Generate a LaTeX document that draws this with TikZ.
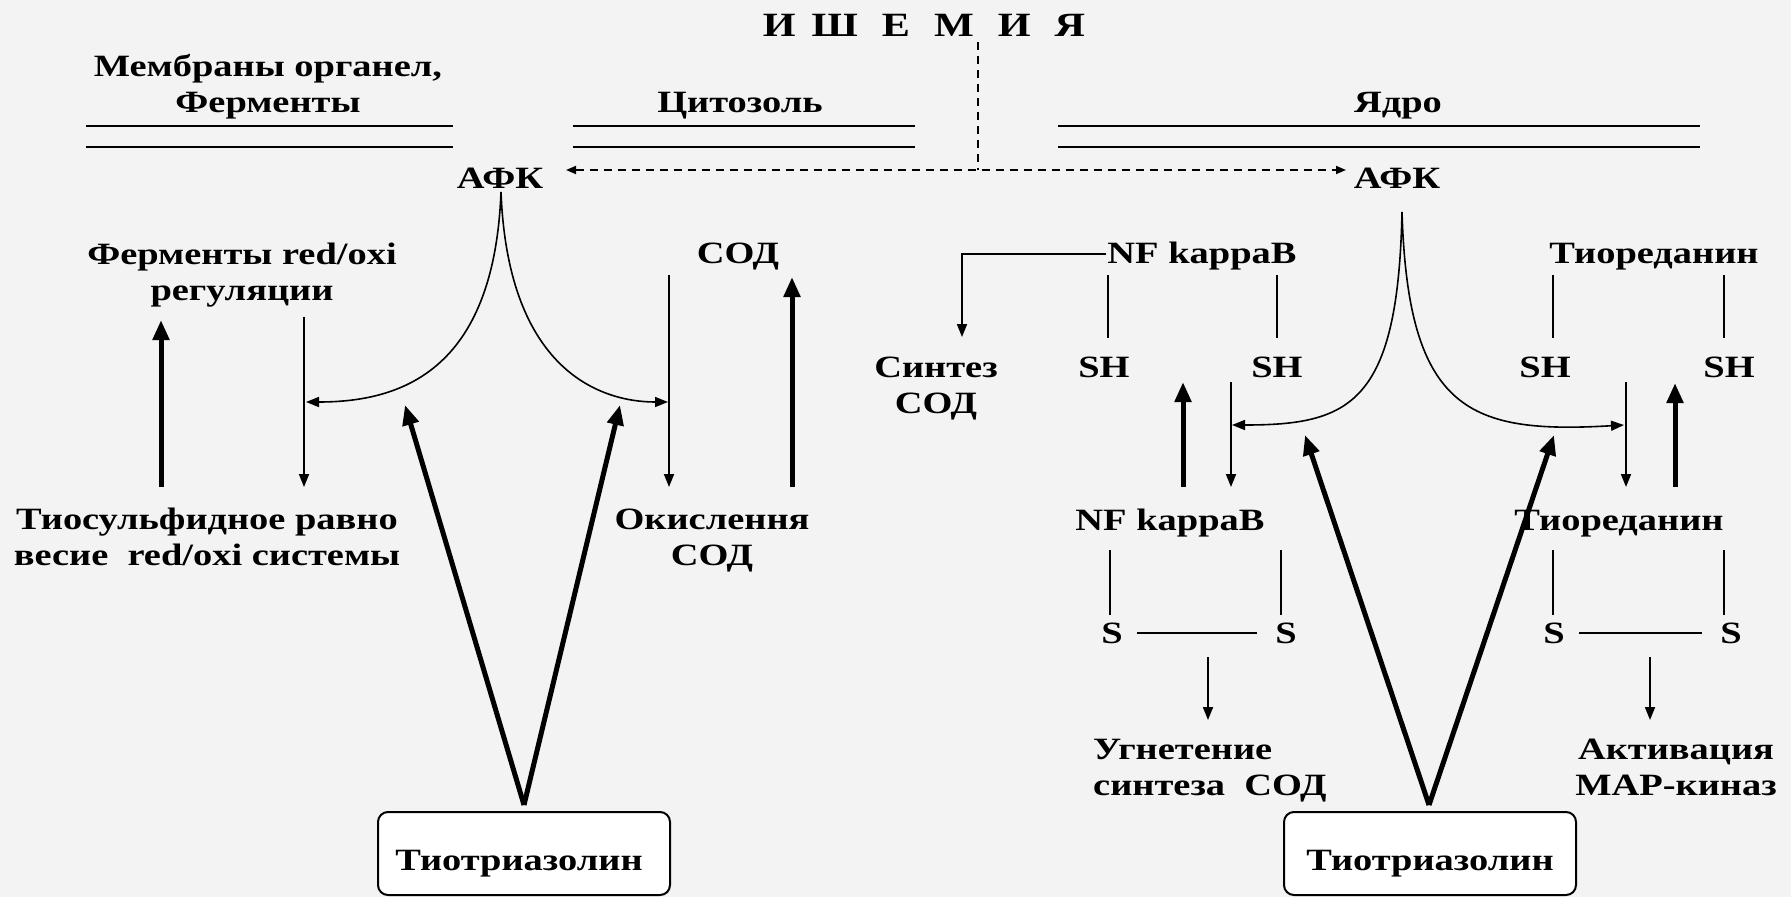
\documentclass[tikz,border=0pt]{standalone}
\usepackage{fontspec}
\setmainfont{Liberation Serif}[FakeStretch=1.24]
\usetikzlibrary{arrows.meta}
\definecolor{bg}{RGB}{243,243,243}
\begin{document}
\begin{tikzpicture}[x=1pt,y=-1pt,
  lbl/.style={font=\fontsize{31}{36}\selectfont\bfseries, inner sep=0pt, anchor=base, align=center},
  ttl/.style={font=\fontsize{34}{40}\selectfont\bfseries, inner sep=0pt, anchor=base},
  thinln/.style={line width=1.8pt},
  thinarr/.style={line width=1.8pt, -{Triangle[length=13pt,width=10pt]}},
  thickarr/.style={line width=5pt, -{Triangle[length=20pt,width=16pt]}},
  dblln/.style={line width=2.2pt},
  curvearr/.style={line width=1.6pt, {Triangle[length=13pt,width=10pt]}-{Triangle[length=13pt,width=10pt]}},
  dashln/.style={line width=1.8pt, dash pattern=on 8pt off 6pt},
  drugbox/.style={draw, line width=2pt, fill=white, rounded corners=10pt, minimum width=292pt, minimum height=83pt, inner sep=0pt, text height=40pt, text depth=7pt, font=\fontsize{31}{36}\selectfont\bfseries}
]
\useasboundingbox (0,0) rectangle (1791,897);
\fill[bg] (0,0) rectangle (1791,897);

% ---------- top ----------
\node[ttl] (title) at (924,36) {И\hspace{16pt}Ш\hspace{24pt}Е\hspace{24pt}М\hspace{24pt}И\hspace{24pt}Я};
\node[lbl] (mem) at (268,112) {Мембраны органел,\\Ферменты};
\node[lbl] (cyt) at (740,112) {Цитозоль};
\node[lbl] (nuc) at (1398,112) {Ядро};
\node[lbl] (afk1) at (500,188) {АФК};
\node[lbl] (afk2) at (1397,188) {АФК};

\foreach \a/\b in {86/453,573/915,1058/1700}{
  \draw[dblln] (\a,126) -- (\b,126);
  \draw[dblln] (\a,147) -- (\b,147);
}

\coordinate (dtop) at (978,42);
\coordinate (djoin) at (978,170);
\coordinate (daL) at (566,170);
\coordinate (daR) at (1346,170);
\draw[dashln] (dtop) -- (djoin);
\draw[dashln, {Triangle[length=10pt,width=8pt]}-{Triangle[length=10pt,width=8pt]}] (daL) -- (daR);

% ---------- left part ----------
\node[lbl] (fer) at (242,300) {Ферменты red/oxi\\регуляции};
\node[lbl] (sod1) at (738,263) {СОД};
\node[lbl] (tio) at (207,565) {Тиосульфидное равно\\весие\ \ red/oxi системы};
\node[lbl] (okis) at (712,565) {Окислення\\СОД};
\node[drugbox] (box1) at (524,853.5) {Тиотриазолин\kern10pt};

\coordinate (lA0) at (161,487); \coordinate (lA1) at (161,320);
\coordinate (lB0) at (304,317); \coordinate (lB1) at (304,487);
\coordinate (lC0) at (669,275); \coordinate (lC1) at (669,487);
\coordinate (lD0) at (792,487); \coordinate (lD1) at (792,277);
\draw[thickarr] (lA0) -- (lA1);
\draw[thinarr] (lB0) -- (lB1);
\draw[thinarr] (lC0) -- (lC1);
\draw[thickarr] (lD0) -- (lD1);

\coordinate (pk1) at (501,192);
\coordinate (cL1) at (306,402);
\coordinate (cL2) at (668,402);
\draw[curvearr] (cL1) .. controls (400,402) and (494,372) .. (pk1) .. controls (508,372) and (602,402) .. (cL2);

\coordinate (v1) at (524,805);
\coordinate (v1a) at (405,405);
\coordinate (v1b) at (620,405);
\draw[thickarr] (v1) -- (v1a);
\draw[thickarr] (v1) -- (v1b);

% ---------- right part ----------
\node[lbl] (nf1) at (1202,263) {NF kappaB};
\node[lbl] (sint) at (936,413) {Синтез\\СОД};
\node[lbl] (sh1) at (1104,377) {SH};
\node[lbl] (sh2) at (1277,377) {SH};
\node[lbl] (tr1) at (1654,263) {Тиореданин};
\node[lbl] (sh3) at (1545,377) {SH};
\node[lbl] (sh4) at (1729,377) {SH};

\coordinate (nfc) at (962,254);
\coordinate (nfa) at (962,337);
\draw[thinarr] ([xshift=-1pt]nf1.west |- nfc) -- (nfc) -- (nfa);

\foreach \x in {1108,1277,1553,1724}{
  \draw[thinln] (\x,275) -- (\x,338);
}

\coordinate (rA0) at (1183,487); \coordinate (rA1) at (1183,382);
\coordinate (rB0) at (1231,382); \coordinate (rB1) at (1231,487);
\coordinate (rC0) at (1626,382); \coordinate (rC1) at (1626,487);
\coordinate (rD0) at (1675,487); \coordinate (rD1) at (1675,383);
\draw[thickarr] (rA0) -- (rA1);
\draw[thinarr] (rB0) -- (rB1);
\draw[thinarr] (rC0) -- (rC1);
\draw[thickarr] (rD0) -- (rD1);

\coordinate (pk2) at (1402,212);
\coordinate (cR1) at (1232,425);
\coordinate (cR2) at (1624,425);
\draw[curvearr] (cR1) .. controls (1350,425) and (1398,404) .. (pk2) .. controls (1408,412) and (1470,434) .. (cR2);

\node[lbl] (nf2) at (1170,530) {NF kappaB};
\node[lbl] (tr2) at (1619,530) {Тиореданин};
\foreach \x in {1110,1281,1553,1724}{
  \draw[thinln] (\x,550) -- (\x,615);
}
\node[lbl] (s1) at (1112,643) {S};
\node[lbl] (s2) at (1286,643) {S};
\node[lbl] (s3) at (1554,643) {S};
\node[lbl] (s4) at (1731,643) {S};
\draw[thinln] ([xshift=14pt]s1.east) -- ([xshift=-18pt]s2.west);
\draw[thinln] ([xshift=14pt]s3.east) -- ([xshift=-18pt]s4.west);

\coordinate (uA0) at (1208,657); \coordinate (uA1) at (1208,720);
\coordinate (uB0) at (1650,657); \coordinate (uB1) at (1650,720);
\draw[thinarr] (uA0) -- (uA1);
\draw[thinarr] (uB0) -- (uB1);

\node[lbl, align=left, anchor=base west] (ugn) at (1093,795) {Угнетение\\синтеза\ \ СОД};
\node[lbl] (akt) at (1676,795) {Активация\\MAP-киназ};
\node[drugbox] (box2) at (1430,853.5) {Тиотриазолин};

\coordinate (v2) at (1429,805);
\coordinate (v2a) at (1305,435);
\coordinate (v2b) at (1554,435);
\draw[thickarr] (v2) -- (v2a);
\draw[thickarr] (v2) -- (v2b);
\end{tikzpicture}
\end{document}
